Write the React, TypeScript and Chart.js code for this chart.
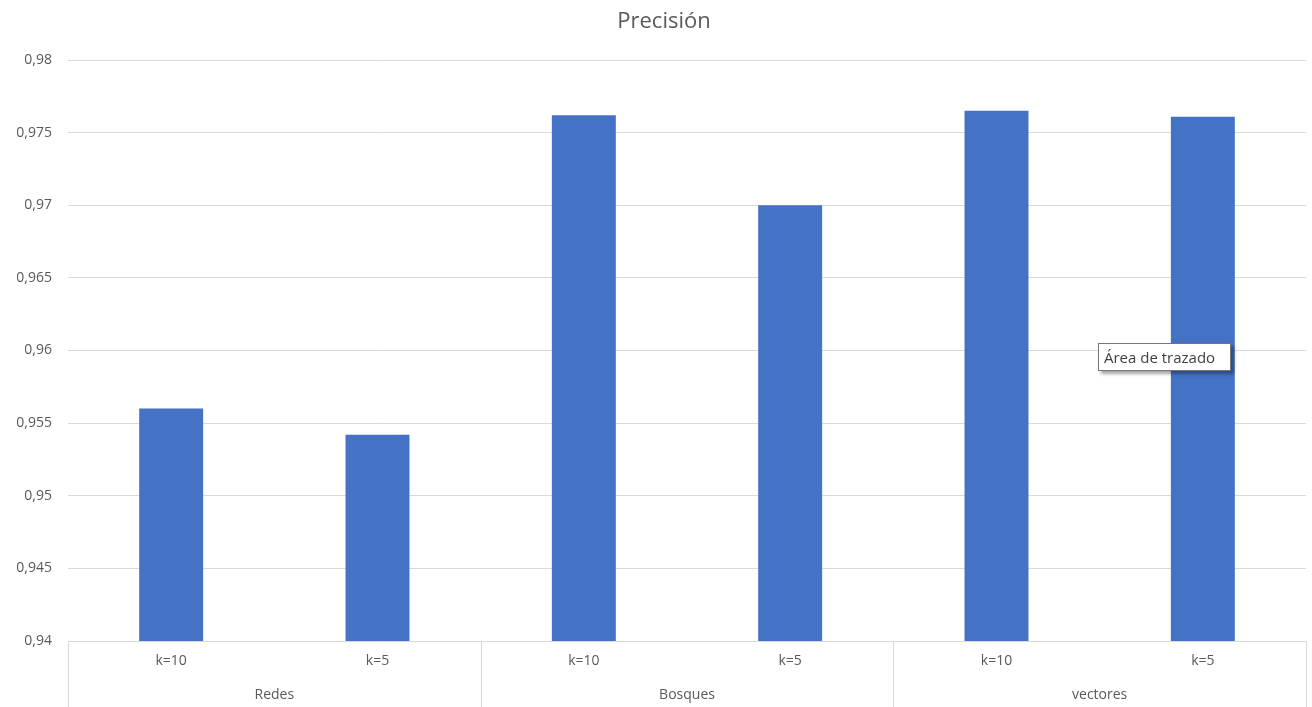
import React, { useEffect, useRef } from "react";
import { Chart, registerables } from "chart.js";

Chart.register(...registerables);

const title = "Precisión";
const groups = ["Redes", "Bosques", "vectores"];
const kLabels = ["k=10", "k=5", "k=10", "k=5", "k=10", "k=5"];
const precision = [0.956, 0.9542, 0.9762, 0.97, 0.9765, 0.9761];
const yMin = 0.94;
const yMax = 0.98;
const yStep = 0.005;
const hoverText = "Área de trazado";

const FONT = "'Open Sans', 'Noto Sans', sans-serif";
const TEXT = "#595959";
const GRID = "#d9d9d9";
const BAR = "#4472C4";

const fmt = (v: number) => String(Number(v.toFixed(3))).replace(".", ",");

const excelAxis = {
  id: "excelAxis",
  afterDraw(chart: any) {
    const { ctx, chartArea, scales } = chart;
    const x = scales.x;
    const bottom = chart.height;
    ctx.save();
    ctx.fillStyle = TEXT;
    ctx.font = `22px ${FONT}`;
    ctx.textAlign = "center";
    ctx.textBaseline = "middle";
    ctx.fillText(title, 664, 22);

    ctx.font = `14px ${FONT}`;
    kLabels.forEach((lab, i) => {
      ctx.fillText(lab, x.getPixelForValue(i), 661);
    });
    const per = kLabels.length / groups.length;
    const bounds: number[] = [chartArea.left];
    for (let g = 1; g < groups.length; g++) {
      const i = g * per;
      bounds.push((x.getPixelForValue(i - 1) + x.getPixelForValue(i)) / 2);
    }
    bounds.push(chartArea.right);
    ctx.strokeStyle = GRID;
    ctx.lineWidth = 1;
    bounds.forEach((bx) => {
      const px = Math.round(bx) + 0.5;
      ctx.beginPath();
      ctx.moveTo(px, chartArea.bottom);
      ctx.lineTo(px, bottom);
      ctx.stroke();
    });
    groups.forEach((g, gi) => {
      ctx.fillText(g, (bounds[gi] + bounds[gi + 1]) / 2, 695);
    });
    ctx.restore();
  },
};

export default function App() {
  const ref = useRef<HTMLCanvasElement>(null);
  useEffect(() => {
    document.body.style.margin = "0";
    const chart = new Chart(ref.current!, {
      type: "bar",
      data: {
        labels: kLabels,
        datasets: [
          {
            label: title,
            data: precision,
            backgroundColor: BAR,
            barPercentage: 0.31,
            categoryPercentage: 1,
          },
        ],
      },
      plugins: [excelAxis],
      options: {
        animation: false,
        responsive: false,
        devicePixelRatio: 1,
        layout: { padding: { top: 60, right: 6, left: 0, bottom: 0 } },
        plugins: {
          legend: { display: false },
          title: { display: false },
          tooltip: { enabled: false },
        },
        scales: {
          x: {
            grid: { display: false },
            border: { display: false },
            ticks: { display: false },
            afterFit: (s: any) => {
              s.height = 66;
            },
          },
          y: {
            min: yMin,
            max: yMax,
            border: { display: false },
            grid: { color: GRID, drawTicks: false, lineWidth: 1 },
            ticks: {
              stepSize: yStep,
              padding: 16,
              color: TEXT,
              font: { family: FONT, size: 14 },
              callback: (v: any) => fmt(Number(v)),
            },
            afterFit: (s: any) => {
              s.width = 68;
            },
          },
        },
      },
    });
    return () => chart.destroy();
  }, []);

  return (
    <div style={{ position: "absolute", left: 0, top: 0, width: 1312, height: 707, background: "#fff" }}>
      <canvas ref={ref} width={1312} height={707} />
      <div
        style={{
          position: "absolute",
          left: 1098,
          top: 343,
          width: 126,
          height: 26,
          border: "1px solid #767676",
          background: "#fff",
          boxShadow: "3px 3px 3px rgba(0,0,0,0.35)",
          font: `15px ${FONT}`,
          color: "#404040",
          lineHeight: "26px",
          paddingLeft: 5,
          boxSizing: "content-box",
          whiteSpace: "nowrap",
        }}
      >
        {hoverText}
      </div>
    </div>
  );
}
